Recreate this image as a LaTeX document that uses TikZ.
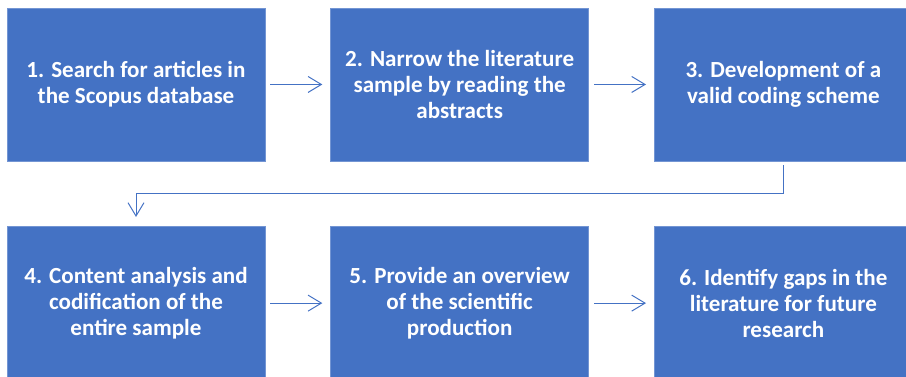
\documentclass[tikz,border=0pt]{standalone}
\usepackage{fontspec}
\setmainfont{Carlito}
\usetikzlibrary{positioning}
\usetikzlibrary{arrows.meta}

\definecolor{boxblue}{HTML}{4472C4}

\tikzset{
  stepbox/.style={rectangle, fill=boxblue, draw=boxblue!75!white, line width=0.5pt,
    minimum width=193.5pt, minimum height=114.75pt, inner sep=0pt,
    align=center, text=white, font=\bfseries\fontsize{17.3}{19.5}\selectfont},
  flow/.style={draw=boxblue, line width=0.75pt, -{Straight Barb[length=10pt,width=12pt]}}
}

\begin{document}
\begin{tikzpicture}

\useasboundingbox (0,0) rectangle (679.5pt,282.75pt);

% Upper row of steps:
\node[stepbox] (search) at (102pt,219.4pt) {1. Search for articles in\\the Scopus database};
\node[stepbox, right=48.75pt of search] (narrow) {2. Narrow the literature\\sample by reading the\\abstracts};
\node[stepbox, right=48.75pt of narrow] (scheme) {3. Development of a\\valid coding scheme};

% Lower row of steps:
\node[stepbox, below=48.75pt of search] (content) {4. Content analysis and\\codification of the\\entire sample};
\node[stepbox, right=48.75pt of content] (overview) {5. Provide an overview\\of the scientific\\production};
\node[stepbox, right=48.75pt of overview] (gaps) {6. Identify gaps in the\\literature for future\\research};

% Arrows between steps:
\draw[flow, shorten <=3.75pt, shorten >=6pt] (search) -- (narrow);
\draw[flow, shorten <=3.75pt, shorten >=6pt] (narrow) -- (scheme);
\draw[flow, shorten <=3.75pt, shorten >=6pt] (content) -- (overview);
\draw[flow, shorten <=3.75pt, shorten >=6pt] (overview) -- (gaps);

% Wrap from the end of the upper row to the start of the lower one:
\draw[flow, shorten <=3pt, shorten >=7pt] (scheme.south) -- ++(0,-24.4pt) -| (content.north);

\end{tikzpicture}
\end{document}
